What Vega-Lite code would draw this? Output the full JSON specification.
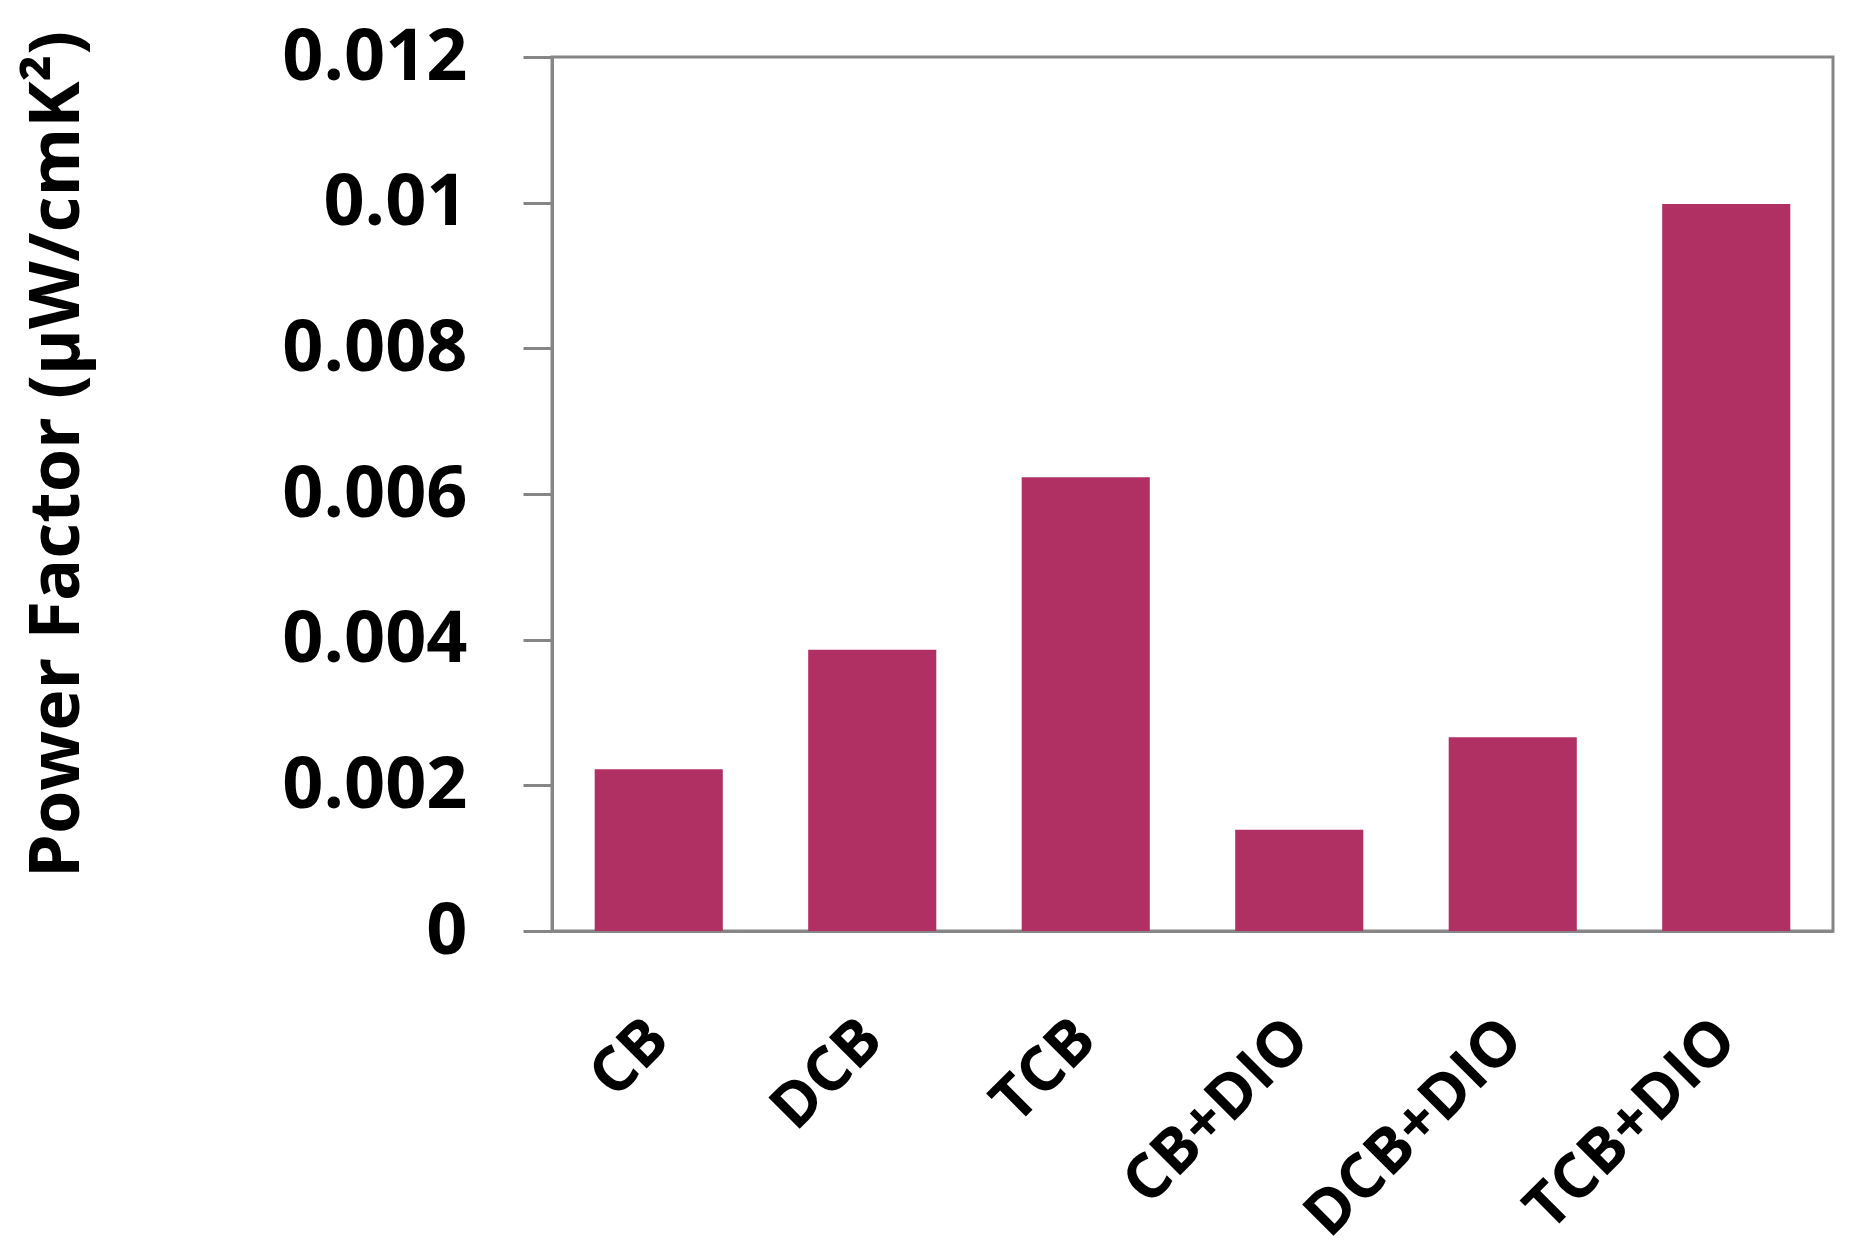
{
  "$schema": "https://vega.github.io/schema/vega-lite/v6.json",
  "autosize": "none",
  "width": 1281,
  "height": 874,
  "padding": {"left": 552, "top": 57, "right": 20, "bottom": 326},
  "background": "white",
  "config": {
    "view": {"stroke": "#868686", "strokeWidth": 3},
    "font": "Open Sans"
  },
  "data": {
    "values": [
      {"sample": "CB", "pf": 0.00222},
      {"sample": "DCB", "pf": 0.00386},
      {"sample": "TCB", "pf": 0.00623},
      {"sample": "CB+DIO", "pf": 0.00139},
      {"sample": "DCB+DIO", "pf": 0.00266},
      {"sample": "TCB+DIO", "pf": 0.00998}
    ]
  },
  "mark": {"type": "bar", "color": "#B03064"},
  "encoding": {
    "x": {
      "field": "sample",
      "type": "nominal",
      "sort": null,
      "scale": {"paddingInner": 0.4, "paddingOuter": 0.2},
      "axis": {
        "title": null,
        "ticks": false,
        "domainColor": "#868686",
        "domainWidth": 3,
        "labelAngle": -45,
        "labelAlign": "right",
        "labelBaseline": "middle",
        "labelPadding": 98,
        "labelLimit": 0,
        "labelFont": "Open Sans",
        "labelFontWeight": "bold",
        "labelFontSize": 62,
        "labelColor": "black"
      }
    },
    "y": {
      "field": "pf",
      "type": "quantitative",
      "scale": {"domain": [0, 0.012], "nice": false},
      "axis": {
        "values": [0, 0.002, 0.004, 0.006, 0.008, 0.01, 0.012],
        "format": "~g",
        "grid": false,
        "domainColor": "#868686",
        "domainWidth": 3,
        "tickColor": "#868686",
        "tickWidth": 3,
        "tickSize": 29,
        "labelPadding": 56,
        "labelLimit": 0,
        "labelFont": "Open Sans",
        "labelFontWeight": "bold",
        "labelFontSize": 72,
        "labelColor": "black",
        "title": "Power Factor (μW/cmK²)",
        "titleFont": "Open Sans",
        "titleFontWeight": "bold",
        "titleFontSize": 70,
        "titleColor": "black",
        "titleAngle": -90,
        "titleAlign": "center",
        "titleBaseline": "middle",
        "titleX": -495,
        "titleY": 397
      }
    }
  }
}
